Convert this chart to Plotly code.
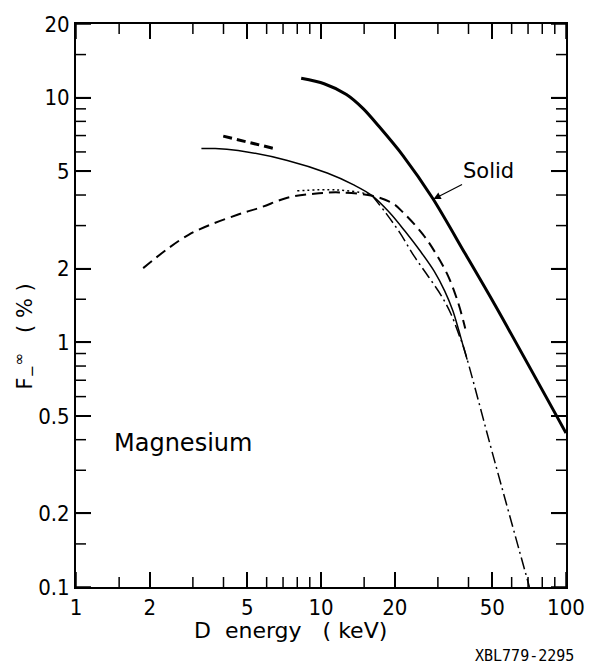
import math
import plotly.graph_objects as go

# ---------------- data ----------------
# Thick solid curve ("Solid")
solid_thick_x = [8.3, 10.3, 12.7, 14.9, 17.3, 21.6, 28.6, 38.8, 51.3, 100]
solid_thick_y = [12.0, 11.4, 10.3, 9.0, 7.6, 5.8, 3.87, 2.3, 1.42, 0.426]

# Thin solid curve
solid_thin_x = [3.25, 3.7, 4.59, 7.29, 10.6, 13.6, 16.2, 19.0, 22.0, 25.5, 29.0, 32.0, 34.5, 36.5, 38.0, 39.5]
solid_thin_y = [6.19, 6.2, 6.08, 5.54, 4.92, 4.40, 3.97, 3.4, 2.85, 2.35, 1.95, 1.62, 1.35, 1.12, 0.97, 0.85]

# Long-dashed curve
dashed_x = [1.88, 2.88, 4.59, 5.68, 7.29, 9.37, 11.9, 16.2, 19.6, 21.6, 26.0, 29.4, 33.0, 36.3, 38.8]
dashed_y = [2.01, 2.75, 3.33, 3.56, 3.90, 4.05, 4.10, 3.97, 3.70, 3.40, 2.77, 2.31, 1.87, 1.45, 1.14]

# Dotted curve
dotted_x = [8.0, 11.5, 15.3, 16.2]
dotted_y = [4.16, 4.20, 4.05, 3.97]

# Dash-dot curve
dashdot_x = [16.2, 18.5, 21.0, 24.0, 27.5, 31.0, 34.0, 36.5, 38.0, 51.3, 70.9]
dashdot_y = [3.97, 3.35, 2.80, 2.25, 1.85, 1.55, 1.30, 1.08, 0.97, 0.323, 0.1]

# Short thick dashed segment
short_dash_x = [3.99, 6.46]
short_dash_y = [6.96, 6.19]

# Axis ticks
x_major = [1, 2, 5, 10, 20, 50, 100]
x_major_labels = ["1", "2", "5", "10", "20", "50", "100"]
x_minor = [1.5, 3, 4, 6, 7, 8, 9, 15, 30, 40, 60, 70, 80, 90]
y_major = [0.1, 0.2, 0.5, 1, 2, 5, 10, 20]
y_major_labels = ["0.1", "0.2", "0.5", "1", "2", "5", "10", "20"]
y_minor = [0.15, 0.3, 0.4, 0.6, 0.7, 0.8, 0.9, 1.5, 3, 4, 6, 7, 8, 9, 15]

X_RANGE = [0, 2]
Y_RANGE = [math.log10(0.1), math.log10(20)]

# ---------------- figure ----------------
fig = go.Figure()

SM = 1.0
fig.add_trace(go.Scatter(x=solid_thick_x, y=solid_thick_y, mode="lines",
                         line=dict(color="black", width=3, shape="spline", smoothing=0.8),
                         showlegend=False))
fig.add_trace(go.Scatter(x=solid_thin_x, y=solid_thin_y, mode="lines",
                         line=dict(color="black", width=1.5, shape="spline", smoothing=SM),
                         showlegend=False))
fig.add_trace(go.Scatter(x=dashed_x, y=dashed_y, mode="lines",
                         line=dict(color="black", width=2, dash="11px,6px", shape="spline", smoothing=SM),
                         showlegend=False))
fig.add_trace(go.Scatter(x=dotted_x, y=dotted_y, mode="lines",
                         line=dict(color="black", width=1.5, dash="2px,3px", shape="spline", smoothing=SM),
                         showlegend=False))
fig.add_trace(go.Scatter(x=dashdot_x, y=dashdot_y, mode="lines",
                         line=dict(color="black", width=1.5, dash="12px,4px,2px,4px", shape="spline", smoothing=SM),
                         showlegend=False))
fig.add_trace(go.Scatter(x=short_dash_x, y=short_dash_y, mode="lines",
                         line=dict(color="black", width=3, dash="9px,5px"),
                         showlegend=False))

tick_font = dict(family="Liberation Sans Narrow, DejaVu Sans Condensed, Liberation Sans, sans-serif",
                 size=22, color="black")

fig.update_layout(
    xaxis=dict(type="log", range=X_RANGE, tickmode="array", tickvals=x_major, ticktext=x_major_labels,
               ticks="inside", ticklen=15, tickwidth=1.5, tickcolor="black",
               showline=True, linecolor="black", linewidth=2, mirror="ticks",
               showgrid=False, zeroline=False, tickfont=tick_font),
    yaxis=dict(type="log", range=Y_RANGE, tickmode="array", tickvals=y_major, ticktext=y_major_labels,
               ticks="inside", ticklen=15, tickwidth=1.5, tickcolor="black",
               showline=True, linecolor="black", linewidth=2, mirror="ticks",
               showgrid=False, zeroline=False, tickfont=tick_font),
)

# Tick marks on all four sides, drawn as pixel-sized shapes at the tick values
tick_line = dict(color="black", width=1.5)


def add_x_ticks(values, length):
    for v in values:
        fig.add_shape(type="line", xref="x", yref="paper", x0=v, x1=v,
                      ysizemode="pixel", yanchor=0, y0=0, y1=length, line=tick_line)
        fig.add_shape(type="line", xref="x", yref="paper", x0=v, x1=v,
                      ysizemode="pixel", yanchor=1, y0=0, y1=-length, line=tick_line)


def add_y_ticks(values, length):
    for v in values:
        fig.add_shape(type="line", yref="y", xref="paper", y0=v, y1=v,
                      xsizemode="pixel", xanchor=0, x0=0, x1=length, line=tick_line)
        fig.add_shape(type="line", yref="y", xref="paper", y0=v, y1=v,
                      xsizemode="pixel", xanchor=1, x0=0, x1=-length, line=tick_line)


add_x_ticks(x_major, 15)
add_x_ticks(x_minor, 10)
add_y_ticks(y_major, 15)
add_y_ticks(y_minor, 10)

text_font = "DejaVu Sans, Liberation Sans, sans-serif"

fig.add_annotation(xref="paper", yref="paper", x=0.218, y=0.256, text="Magnesium",
                   showarrow=False, font=dict(family=text_font, size=24, color="black"),
                   xanchor="center", yanchor="middle")

fig.add_annotation(xref="x", yref="y", x=math.log10(28.8), y=math.log10(3.85), text="Solid",
                   showarrow=True, arrowhead=2, arrowsize=1.2, arrowwidth=1.2, arrowcolor="black",
                   ax=55, ay=-28, font=dict(family=text_font, size=21, color="black"))

fig.add_annotation(xref="paper", yref="paper", x=0.4375, y=-0.078,
                   text="D  energy   ( keV)", showarrow=False,
                   font=dict(family=text_font, size=22, color="black"),
                   xanchor="center", yanchor="middle")

fig.add_annotation(xref="paper", yref="paper", x=-0.105, y=0.444,
                   text="F<sub>−</sub><sup>∞</sup>   ( % )", showarrow=False, textangle=-90,
                   font=dict(family=text_font, size=21, color="black"),
                   xanchor="center", yanchor="middle")

fig.add_annotation(xref="paper", yref="paper", x=1.02, y=-0.122,
                   text="XBL779-2295", showarrow=False,
                   font=dict(family="DejaVu Sans Mono, monospace", size=15, color="black"),
                   xanchor="right", yanchor="middle")

fig.update_layout(
    width=597, height=667,
    margin=dict(l=76, r=25, t=13, b=80),
    paper_bgcolor="white", plot_bgcolor="white",
    showlegend=False,
)

fig.write_html("out.html")
